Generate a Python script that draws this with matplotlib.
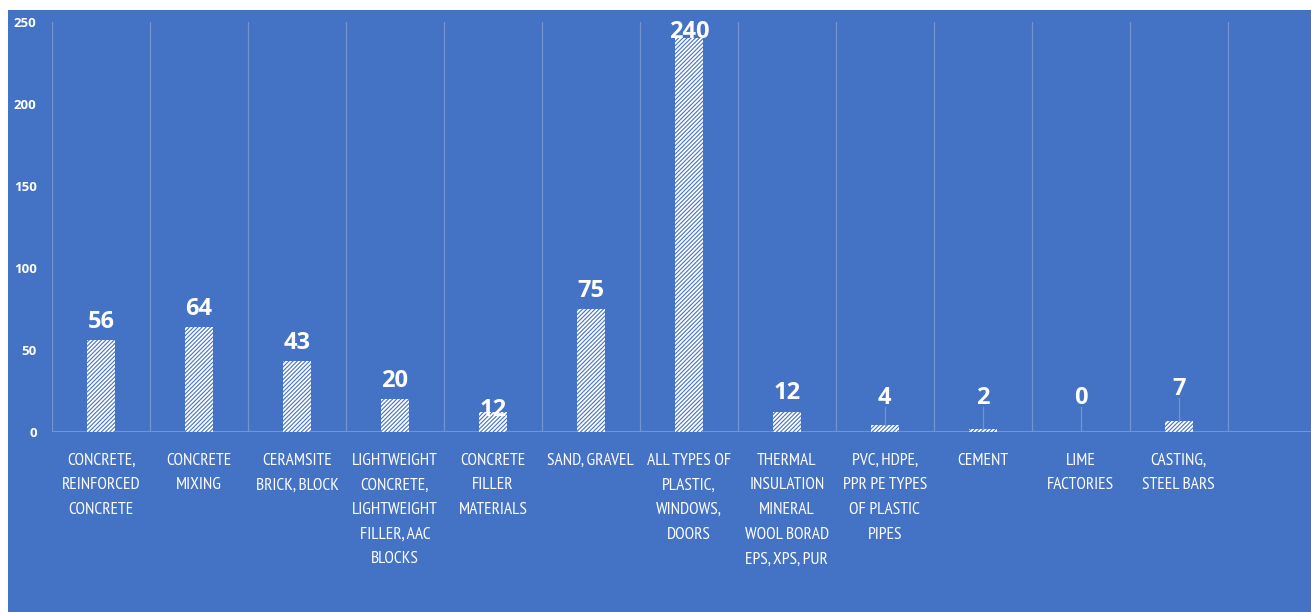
import matplotlib
matplotlib.use("Agg")
import matplotlib.pyplot as plt
import matplotlib.patches as mpatches

# Producers by building-material group
categories = [
    "CONCRETE,\nREINFORCED\nCONCRETE",
    "CONCRETE\nMIXING",
    "CERAMSITE\nBRICK, BLOCK",
    "LIGHTWEIGHT\nCONCRETE,\nLIGHTWEIGHT\nFILLER, AAC\nBLOCKS",
    "CONCRETE\nFILLER\nMATERIALS",
    "SAND, GRAVEL",
    "ALL TYPES OF\nPLASTIC,\nWINDOWS,\nDOORS",
    "THERMAL\nINSULATION\nMINERAL\nWOOL BORAD\nEPS, XPS, PUR",
    "PVC, HDPE,\nPPR PE TYPES\nOF PLASTIC\nPIPES",
    "CEMENT",
    "LIME\nFACTORIES",
    "CASTING,\nSTEEL BARS",
]
counts = [56, 64, 43, 20, 12, 75, 240, 12, 4, 2, 0, 7]
yticks = [0, 50, 100, 150, 200, 250]

BLUE = "#4472C4"
GRID = "#7394D0"
WHITE = "#FFFFFF"

plt.rcParams["hatch.linewidth"] = 0.8

fig = plt.figure(figsize=(13.11, 6.12), dpi=100)
fig.patch.set_facecolor("white")
# blue panel, leaving a thin white strip at the top and left
fig.patches.append(mpatches.Rectangle((8 / 1311, 0), 1, 1 - 10 / 612,
                                      transform=fig.transFigure,
                                      facecolor=BLUE, edgecolor="none", zorder=-10))

ax = fig.add_axes([52 / 1311, 1 - 432 / 612, 1 - 52 / 1311, 410 / 612])
ax.set_facecolor("none")
x = list(range(len(categories)))

ax.bar(x, counts, width=0.29, color=WHITE, edgecolor=BLUE, linewidth=0,
       hatch="////////", zorder=3)

ax.set_xlim(-0.5, 12.35)
ax.set_ylim(0, 250)

# vertical separators between categories
for b in range(len(categories) + 1):
    ax.axvline(b - 0.5, color=GRID, lw=0.9, zorder=1)
ax.axhline(0, color=GRID, lw=1.5, zorder=2)

for s in ax.spines.values():
    s.set_visible(False)

ax.set_yticks(yticks)
ax.set_yticklabels([str(t) for t in yticks], color=WHITE, fontsize=9.5,
                   fontweight="bold", family="Open Sans")
ax.tick_params(axis="y", length=0, pad=11)

ax.set_xticks(x)
ax.set_xticklabels(categories, color=WHITE, fontsize=12.5,
                   family=["PT Sans Narrow", "DejaVu Sans"],
                   linespacing=1.72, va="top")
ax.tick_params(axis="x", length=0, pad=15)

# value labels; small bars get their label lifted with a leader line
lifted = {8: 21, 9: 21, 10: 21, 11: 26, 7: 24, 4: 13.5, 6: 244}
for i, v in enumerate(counts):
    ly = lifted.get(i, v + 11)
    ax.text(i, ly, str(v), ha="center", va="center", color=WHITE,
            fontsize=17, fontweight="bold", family="Open Sans", zorder=5)
    if i in (8, 9, 10, 11):
        ax.plot([i, i], [v, ly - 5.5], color=GRID, lw=0.9, zorder=4)

fig.savefig("out.png", dpi=100)
